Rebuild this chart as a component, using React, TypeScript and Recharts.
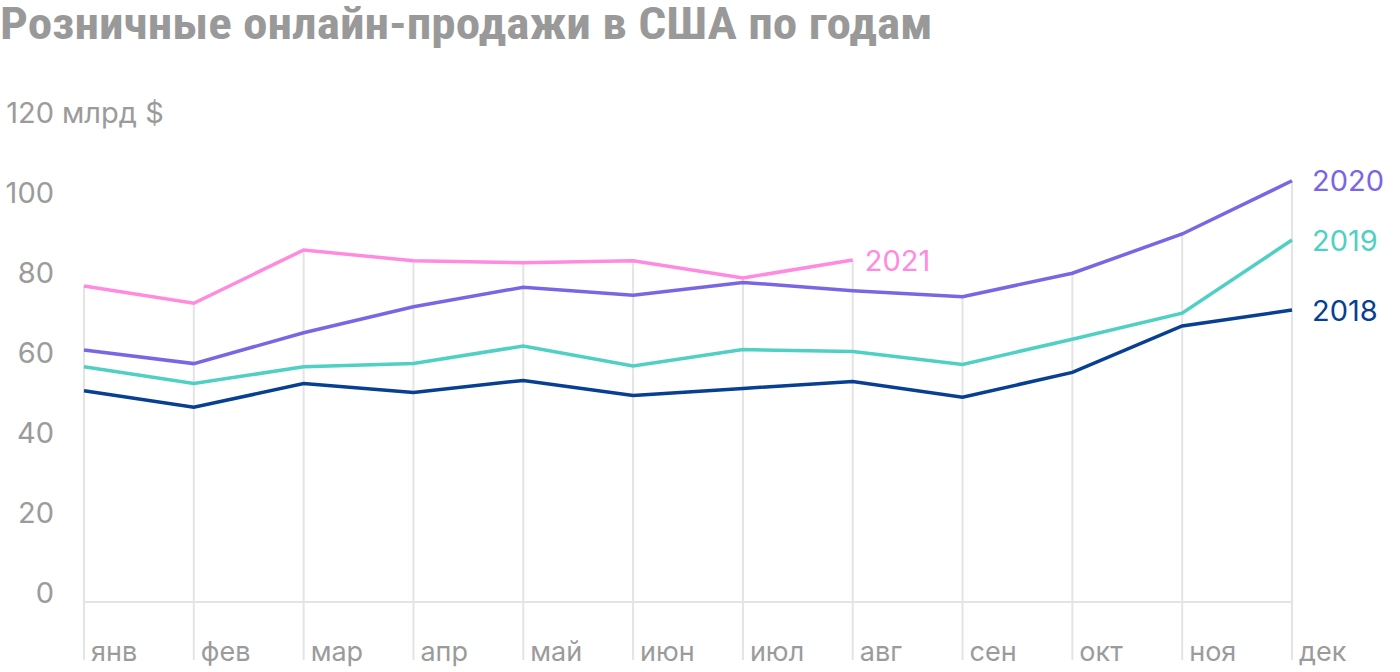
import { LineChart, Line, XAxis, YAxis, ReferenceLine, LabelList } from "recharts"

const MONTHS = ["янв", "фев", "мар", "апр", "май", "июн", "июл", "авг", "сен", "окт", "ноя", "дек"]

// млрд $
const SALES_2018 = [52.8, 48.7, 54.6, 52.4, 55.4, 51.6, 53.4, 55.1, 51.2, 57.4, 69, 73]
const SALES_2019 = [58.8, 54.6, 58.8, 59.6, 64, 59, 63.1, 62.6, 59.4, 65.7, 72.2, 90.5]
const SALES_2020 = [63, 59.6, 67.3, 73.8, 78.7, 76.7, 79.9, 77.8, 76.3, 82.2, 92, 105.3]
const SALES_2021 = [79, 74.7, 88, 85.3, 84.8, 85.3, 81, 85.5, null, null, null, null]

const Y_TICKS = [0, 20, 40, 60, 80, 100, 120]

const SERIES = [
  { key: "y2018", name: "2018", color: "#073f92", values: SALES_2018, gap: 20 },
  { key: "y2019", name: "2019", color: "#4fd0c3", values: SALES_2019, gap: 20 },
  { key: "y2020", name: "2020", color: "#7a66e4", values: SALES_2020, gap: 20 },
  { key: "y2021", name: "2021", color: "#ff8ade", values: SALES_2021, gap: 12 },
]

const GRAY = "#9b9b9b"
const GRID = "#e4e4e4"
const FONT = "Inter, 'Noto Sans', sans-serif"
const Y_MIN = -14.5 // grid lines run a bit below zero, under the month labels

const data = MONTHS.map((m, i) => {
  const row: Record<string, string | number | null> = { month: m }
  SERIES.forEach((s) => {
    row[s.key] = s.values[i]
  })
  return row
})

function maxAt(i: number): number {
  return Math.max(...SERIES.map((s) => (s.values[i] == null ? -Infinity : (s.values[i] as number))))
}

function YTick(props: any) {
  const { y, payload } = props
  return (
    <g>
      <text x={54} y={y + 1} textAnchor="end" fontSize={29} fill={GRAY} fontFamily={FONT}>
        {payload.value}
      </text>
      {payload.value === 120 && (
        <text x={62} y={y + 1} textAnchor="start" fontSize={29} fill={GRAY} fontFamily={FONT}>
          {"млрд $"}
        </text>
      )}
    </g>
  )
}

function XTick(props: any) {
  const { x, payload } = props
  return (
    <text x={x + 7} y={661} textAnchor="start" fontSize={27} fill={GRAY} fontFamily={FONT}>
      {payload.value}
    </text>
  )
}

function endLabel(values: (number | null)[], name: string, color: string, gap: number) {
  let last = -1
  values.forEach((v, i) => {
    if (v != null) last = i
  })
  return (props: any) => {
    if (props.index !== last) return null
    return (
      <text
        x={props.x + gap}
        y={props.y}
        dominantBaseline="central"
        fontSize={29}
        fill={color}
        fontFamily={FONT}
      >
        {name}
      </text>
    )
  }
}

export default function App() {
  return (
    <div style={{ position: "absolute", left: 0, top: 0, width: 1400, height: 672, background: "#fff" }}>
      <div
        style={{
          position: "absolute",
          left: 0,
          top: 2,
          fontFamily: "'Liberation Sans Narrow', 'Roboto Condensed', Arial, sans-serif",
          fontWeight: 700,
          fontSize: 44,
          lineHeight: 1,
          color: "#999999",
          whiteSpace: "nowrap",
          transform: "scaleX(1.118)",
          transformOrigin: "0 0",
        }}
      >
        {"Розничные онлайн-продажи в США по годам"}
      </div>
      <LineChart
        width={1400}
        height={672}
        data={data}
        margin={{ top: 122, right: 108, bottom: 0, left: 0 }}
      >
        <XAxis
          dataKey="month"
          height={12}
          axisLine={false}
          tickLine={false}
          interval={0}
          tick={<XTick />}
        />
        <YAxis
          width={84}
          domain={[Y_MIN, 120]}
          ticks={Y_TICKS}
          allowDataOverflow
          axisLine={false}
          tickLine={false}
          tick={<YTick />}
        />
        {MONTHS.map((m, i) => (
          <ReferenceLine
            key={m}
            segment={[
              { x: m, y: maxAt(i) },
              { x: m, y: Y_MIN },
            ]}
            stroke={GRID}
            strokeWidth={2}
          />
        ))}
        <ReferenceLine y={0} stroke={GRID} strokeWidth={2} />
        {SERIES.map((s) => (
          <Line
            key={s.key}
            dataKey={s.key}
            stroke={s.color}
            strokeWidth={3.5}
            dot={false}
            activeDot={false}
            isAnimationActive={false}
            connectNulls={false}
          >
            <LabelList dataKey={s.key} content={endLabel(s.values, s.name, s.color, s.gap)} />
          </Line>
        ))}
      </LineChart>
    </div>
  )
}
